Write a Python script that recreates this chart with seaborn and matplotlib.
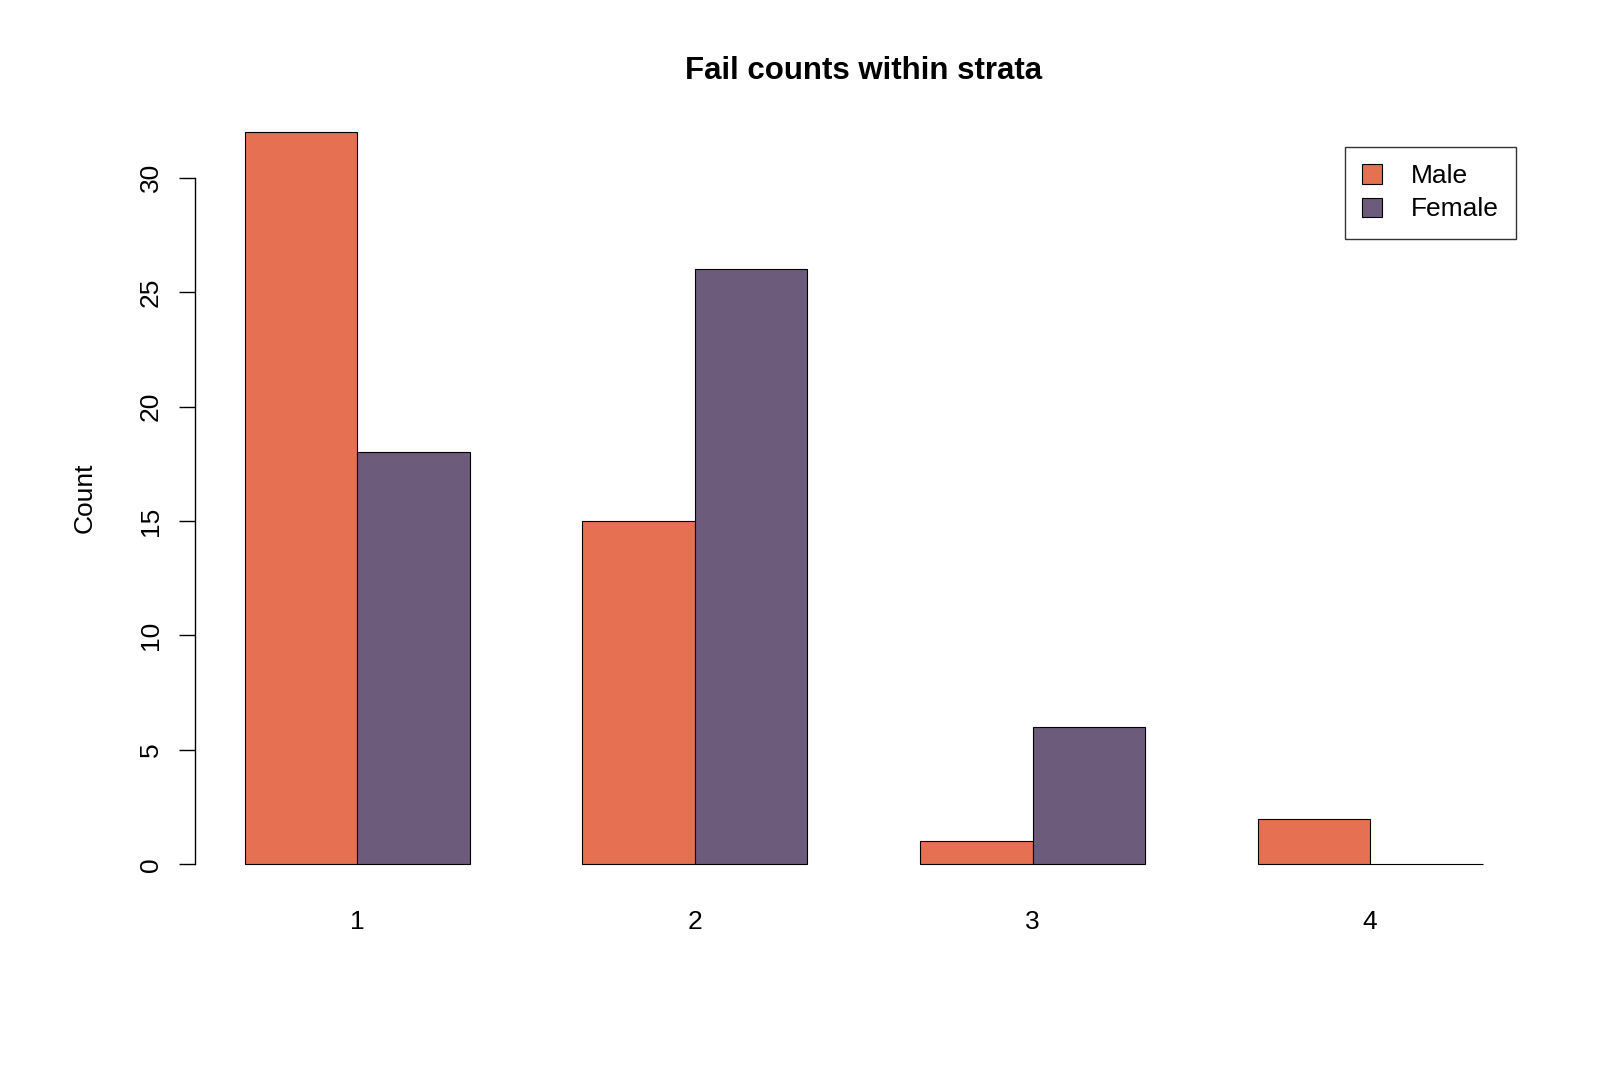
import pandas as pd
import matplotlib.pyplot as plt
import seaborn as sns
from matplotlib.patches import Patch

# Data
strata = ["1", "2", "3", "4"]
male_counts = [32, 15, 1, 2]
female_counts = [18, 26, 6, 0]
sexes = ["Male", "Female"]
colors = {"Male": "#E67052", "Female": "#6C5B7B"}

sns.set_theme(style="white")
plt.rcParams.update({
    'font.family': ['Liberation Sans', 'DejaVu Sans'],
    'font.size': 19,
    'axes.edgecolor': 'black',
    'text.color': 'black',
    'axes.labelcolor': 'black',
    'xtick.color': 'black',
    'ytick.color': 'black',
})

df = pd.DataFrame({
    "Stratum": strata * 2,
    "Sex": ["Male"] * len(strata) + ["Female"] * len(strata),
    "Count": male_counts + female_counts,
})

fig = plt.figure(figsize=(16, 10.67), dpi=100)
ax = fig.add_axes([0.1221, 0.1625, 0.8355, 0.7413])

sns.barplot(
    data=df, x="Stratum", y="Count", hue="Sex", order=strata, hue_order=sexes,
    palette=colors, width=2 / 3, saturation=1, edgecolor="black", linewidth=0.8,
    legend=False, ax=ax,
)

ax.set_xlim(-1 / 3 - 0.1467, 3 + 1 / 3 + 0.1467)
ax.set_ylim(-1.28, 33.28)

# R-style axes: only a bounded left axis, no x axis line
for side in ["top", "right", "bottom"]:
    ax.spines[side].set_visible(False)
ax.spines["left"].set_bounds(0, 30)
ax.spines["left"].set_linewidth(1.0)
ax.set_yticks([0, 5, 10, 15, 20, 25, 30])
ax.tick_params(axis="y", direction="out", length=11.5, width=1.0, pad=12,
               labelsize=19, left=True, labelrotation=90)
for lbl in ax.get_yticklabels():
    lbl.set_va("center")
ax.tick_params(axis="x", length=0, pad=12, labelsize=19)

ax.set_xlabel("")
ax.set_ylabel("Count", fontsize=19)
ax.yaxis.set_label_coords(-0.074, 0.5)
ax.set_title("Fail counts within strata", fontsize=22.5, fontweight="bold", pad=17)

handles = [Patch(facecolor=colors[s], edgecolor="black", linewidth=0.8) for s in sexes]
leg = ax.legend(handles, sexes, loc="upper right",
                bbox_to_anchor=(1516 / 1600, 1 - 147 / 1067),
                bbox_transform=fig.transFigure, borderaxespad=0,
                fontsize=19, frameon=True, fancybox=False,
                handlelength=0.75, handleheight=0.75, handletextpad=1.1,
                labelspacing=0.35, borderpad=0.65)
leg.get_frame().set_edgecolor("black")
leg.get_frame().set_linewidth(1.0)

fig.savefig("out.png", dpi=100)
plt.close(fig)
